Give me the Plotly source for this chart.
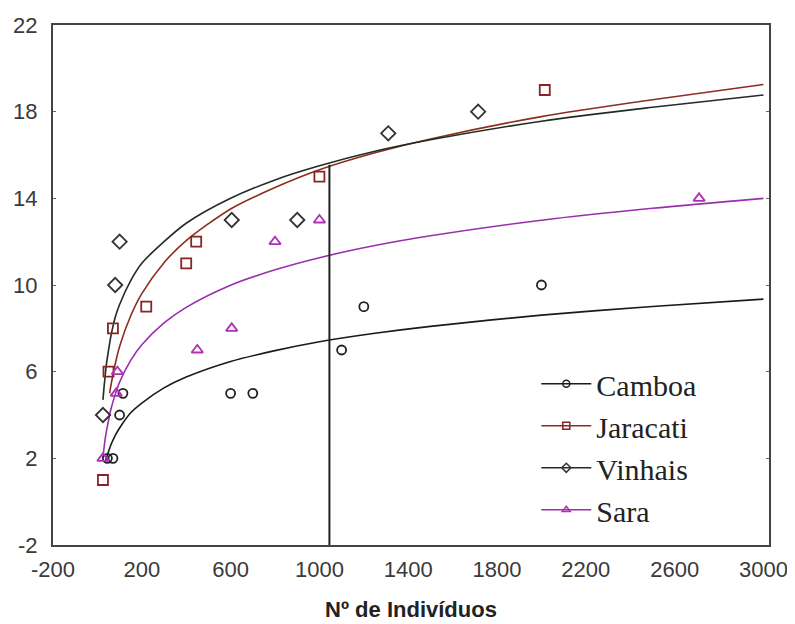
import plotly.graph_objects as go

# ---- observed points (Nº de indivíduos, Nº de espécies) ----
camboa_x = [45, 70, 100, 115, 600, 700, 1100, 1200, 2000]
camboa_y = [2, 2, 4, 5, 5, 5, 7, 9, 10]

jaracati_x = [25, 50, 70, 220, 400, 445, 1000, 2015]
jaracati_y = [1, 6, 8, 9, 11, 12, 15, 19]

vinhais_x = [25, 80, 100, 605, 900, 1310, 1715]
vinhais_y = [4, 10, 12, 13, 13, 17, 18]

sara_x = [25, 85, 90, 450, 605, 800, 1000, 2710]
sara_y = [2, 5, 6, 7, 8, 12, 13, 14]

# ---- fitted curves ----
curve_x = [25, 30, 35, 40, 55, 60, 80, 100, 150, 200, 300, 400, 600, 800, 1000, 1250, 1500, 2000, 2500, 3000]
camboa_curve = [None, None, 1.8, 2.0, 2.45, 2.6, 3.05, 3.4, 4.1, 4.55, 5.25, 5.75, 6.47, 6.97, 7.38, 7.77, 8.09, 8.61, 9.01, 9.35]
jaracati_curve = [None, None, None, None, 5.0, 5.31, 6.34, 7.16, 8.58, 9.6, 11.03, 12.05, 13.51, 14.5, 15.32, 16.1, 16.74, 17.77, 18.55, 19.25]
vinhais_curve = [4.7, 5.3, 5.8, 6.3, 7.3, 7.6, 8.5, 9.1, 10.2, 11.0, 12.0, 12.85, 14.0, 14.85, 15.5, 16.17, 16.7, 17.56, 18.2, 18.77]
sara_curve = [2.04, 2.49, 2.9, 3.21, 4.0, 4.23, 4.94, 5.52, 6.52, 7.24, 8.25, 8.97, 9.99, 10.7, 11.26, 11.82, 12.27, 12.99, 13.54, 14.0]

# vertical reference line
ref_x = [1045, 1045]
ref_y = [-2, 15.55]

x_ticks = [-200, 200, 600, 1000, 1400, 1800, 2200, 2600, 3000]
y_ticks = [-2, 2, 6, 10, 14, 18, 22]

names = ["Camboa", "Jaracati", "Vinhais", "Sara"]
line_colors = ["#1a1a1a", "#8b2e1e", "#1f2e22", "#9a2fae"]
marker_colors = ["#222222", "#8b2323", "#333333", "#b030b8"]
symbols = ["circle-open", "square-open", "diamond-open", "triangle-up-open"]
sizes = [9, 10, 11, 10]

pts = [(camboa_x, camboa_y), (jaracati_x, jaracati_y), (vinhais_x, vinhais_y), (sara_x, sara_y)]
curves = [camboa_curve, jaracati_curve, vinhais_curve, sara_curve]

fig = go.Figure()

for i, name in enumerate(names):
    fig.add_trace(go.Scatter(
        x=curve_x, y=curves[i], mode="lines", connectgaps=False,
        line=dict(color=line_colors[i], width=1.6, shape="spline", smoothing=0.8),
        showlegend=False, hoverinfo="skip"))

for i, name in enumerate(names):
    fig.add_trace(go.Scatter(
        x=pts[i][0], y=pts[i][1], mode="markers",
        marker=dict(symbol=symbols[i], size=sizes[i], color=marker_colors[i],
                    line=dict(width=1.8, color=marker_colors[i])),
        showlegend=False, name=name))

fig.add_trace(go.Scatter(x=ref_x, y=ref_y, mode="lines",
                         line=dict(color="#222222", width=2),
                         showlegend=False, hoverinfo="skip"))

# legend entries
for i, name in enumerate(names):
    fig.add_trace(go.Scatter(
        x=[None], y=[None], mode="lines+markers", name=name,
        line=dict(color=line_colors[i], width=1.6),
        marker=dict(symbol=symbols[i], size=7, color=marker_colors[i],
                    line=dict(width=1.5, color=marker_colors[i]))))

tick_font = dict(family="Liberation Sans, Arial", size=22, color="#3a3a3a")

fig.update_layout(
    width=795, height=624,
    margin=dict(l=45, r=34, t=17, b=87),
    paper_bgcolor="white", plot_bgcolor="white",
    showlegend=True,
    legend=dict(x=0.675, y=0.360, xanchor="left", yanchor="top",
                bgcolor="rgba(0,0,0,0)", borderwidth=0,
                font=dict(family="Liberation Serif, Times New Roman, serif", size=30, color="#222222"),
                itemwidth=50, tracegroupgap=0),
    xaxis=dict(range=[-200, 3025], tickmode="array",
               tickvals=x_ticks, ticktext=[str(v) for v in x_ticks],
               showgrid=False, zeroline=False, automargin=False,
               showline=True, linecolor="#444444", linewidth=2, mirror=True,
               ticks="", tickfont=tick_font, ticklabelstandoff=4,
               title=dict(text="<b>Nº de Indivíduos</b>",
                          font=dict(family="Liberation Sans, Arial", size=22, color="#222222"),
                          standoff=20)),
    yaxis=dict(range=[-2, 22], tickmode="array",
               tickvals=y_ticks, ticktext=[str(v) for v in y_ticks],
               showgrid=False, zeroline=False, automargin=False,
               showline=True, linecolor="#444444", linewidth=2, mirror="ticks",
               ticks="inside", ticklen=3, tickcolor="#666666",
               tickfont=tick_font, ticklabelstandoff=9),
)

fig.write_html("out.html")
